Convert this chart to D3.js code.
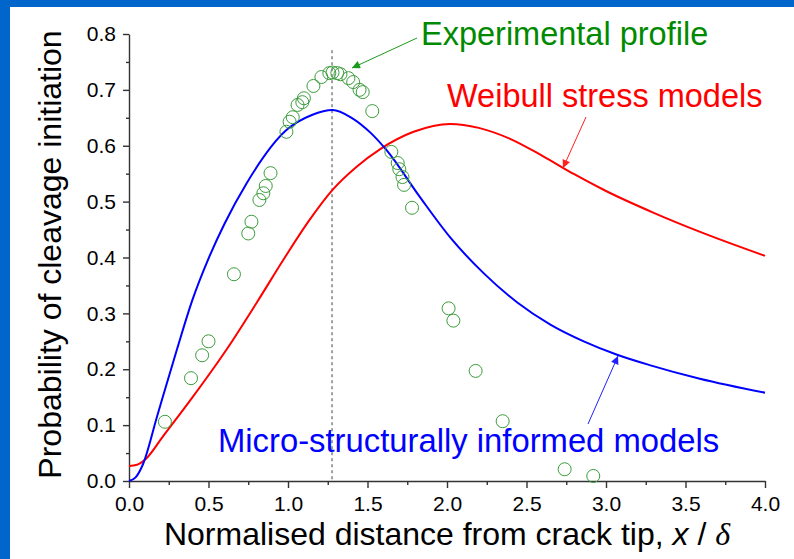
<!DOCTYPE html>
<html>
<head>
<meta charset="utf-8">
<script src="https://cdn.jsdelivr.net/npm/d3@7"></script>
<style>
  body { margin: 0; background: #fff; }
  svg { display: block; font-family: "Liberation Sans", Arial, sans-serif; }
</style>
</head>
<body>
<div id="chart"></div>
<script>
// chart data
const microX = [0, 0.04, 0.088, 0.176, 0.30, 0.40, 0.50, 0.60, 0.74, 0.99, 1.15, 1.28, 1.40, 1.52, 1.62, 1.83, 2.02, 2.23, 2.44, 2.65, 2.86, 3.07, 3.28, 3.59, 4.0];
const microY = [0, 0.006, 0.03, 0.115, 0.234, 0.325, 0.398, 0.46, 0.533, 0.628, 0.655, 0.664, 0.65, 0.623, 0.592, 0.508, 0.436, 0.372, 0.32, 0.28, 0.25, 0.226, 0.207, 0.183, 0.158];

const weibullX = [0, 0.05, 0.1, 0.214, 0.40, 0.62, 0.805, 0.98, 1.13, 1.28, 1.43, 1.58, 1.79, 2.02, 2.2, 2.4, 2.6, 2.8, 3.0, 3.3, 3.6, 4.0];
const weibullY = [0.027, 0.029, 0.038, 0.08, 0.15, 0.238, 0.32, 0.40, 0.465, 0.521, 0.562, 0.594, 0.625, 0.639, 0.632, 0.612, 0.582, 0.549, 0.519, 0.48, 0.445, 0.403];

const expX = [0.226, 0.39, 0.46, 0.50, 0.66, 0.75, 0.77, 0.82, 0.845, 0.86, 0.89, 0.99, 1.01, 1.03, 1.06, 1.09, 1.10, 1.16, 1.21, 1.26, 1.28, 1.31, 1.33, 1.38, 1.41, 1.45, 1.47, 1.53, 1.65, 1.69, 1.70, 1.72, 1.73, 1.78, 2.01, 2.04, 2.18, 2.35, 2.74, 2.92];
const expY = [0.106, 0.184, 0.225, 0.25, 0.37, 0.443, 0.464, 0.503, 0.515, 0.528, 0.551, 0.625, 0.643, 0.651, 0.673, 0.678, 0.685, 0.707, 0.723, 0.73, 0.731, 0.73, 0.728, 0.721, 0.714, 0.70, 0.696, 0.662, 0.589, 0.569, 0.558, 0.544, 0.53, 0.489, 0.309, 0.287, 0.197, 0.107, 0.021, 0.009];

const peakX = 1.277;
const xTicks = [0, 0.5, 1.0, 1.5, 2.0, 2.5, 3.0, 3.5, 4.0];
const yTicks = [0, 0.1, 0.2, 0.3, 0.4, 0.5, 0.6, 0.7, 0.8];

const width = 794, height = 559;
const margin = {top: 34, right: 29, bottom: 78, left: 129};
const innerW = width - margin.left - margin.right;
const innerH = height - margin.top - margin.bottom;

const svg = d3.select("#chart").append("svg")
    .attr("width", width)
    .attr("height", height);

// blue frame strips
svg.append("rect").attr("x", 0).attr("y", 0).attr("width", width).attr("height", 7).attr("fill", "#0066cc");
svg.append("rect").attr("x", 0).attr("y", 0).attr("width", 10).attr("height", height).attr("fill", "#0066cc");

const defs = svg.append("defs");
function arrowMarker(id, color) {
  defs.append("marker")
      .attr("id", id)
      .attr("viewBox", "0 0 10 10")
      .attr("refX", 10).attr("refY", 5)
      .attr("markerWidth", 11).attr("markerHeight", 8)
      .attr("markerUnits", "userSpaceOnUse")
      .attr("orient", "auto")
      .append("path")
      .attr("d", "M0,0L10,5L0,10z")
      .attr("fill", color);
}
arrowMarker("arrG", "#1a9a1a");
arrowMarker("arrR", "#ff2020");
arrowMarker("arrB", "#2020ff");

const g = svg.append("g").attr("transform", `translate(${margin.left},${margin.top})`);

let x = d3.scaleLinear().domain([0, 4]).range([0, innerW]);
let y = d3.scaleLinear().domain([0, 0.8]).range([innerH, 0]);

// minor ticks
g.append("g")
    .attr("transform", `translate(0,${innerH})`)
    .call(d3.axisBottom(x).tickValues(d3.range(0.25, 4, 0.5)).tickSize(4).tickFormat(""))
    .call(a => a.select(".domain").remove());
g.append("g")
    .call(d3.axisLeft(y).tickValues(d3.range(0.05, 0.8, 0.1)).tickSize(3).tickFormat(""))
    .call(a => a.select(".domain").remove());

// major axes
let xAxis = g.append("g")
    .attr("transform", `translate(0,${innerH})`)
    .call(d3.axisBottom(x).tickValues(xTicks).tickSize(7).tickSizeOuter(0).tickPadding(8).tickFormat(d3.format(".1f")));
let yAxis = g.append("g")
    .call(d3.axisLeft(y).tickValues(yTicks).tickSize(6).tickSizeOuter(0).tickPadding(7).tickFormat(d3.format(".1f")));

g.selectAll(".tick text").attr("font-size", 21).attr("fill", "#000").attr("font-family", "Liberation Sans, Arial, sans-serif");
g.selectAll(".domain, .tick line").attr("stroke", "#333").attr("stroke-width", 1.4);

// dashed line at peak
g.append("line")
    .attr("x1", x(peakX)).attr("x2", x(peakX))
    .attr("y1", y(0.771)).attr("y2", y(0))
    .attr("stroke", "#444").attr("stroke-width", 1)
    .attr("stroke-dasharray", "3,3");

const line = d3.line().curve(d3.curveMonotoneX);

g.append("path")
    .attr("d", line(weibullX.map((d, i) => [x(d), y(weibullY[i])])))
    .attr("fill", "none").attr("stroke", "#ff0000").attr("stroke-width", 2);

g.append("path")
    .attr("d", line(microX.map((d, i) => [x(d), y(microY[i])])))
    .attr("fill", "none").attr("stroke", "#0000ff").attr("stroke-width", 2);

g.selectAll("circle.exp")
    .data(expX.map((d, i) => ({x: d, y: expY[i]})))
    .enter().append("circle")
    .attr("class", "exp")
    .attr("cx", d => x(d.x))
    .attr("cy", d => y(d.y))
    .attr("r", 6.5)
    .attr("fill", "none")
    .attr("stroke", "#3c9c3c")
    .attr("stroke-width", 1);

// annotations
svg.append("text").attr("x", 421).attr("y", 45).attr("font-size", 32.5).attr("fill", "#008a00").text("Experimental profile");
svg.append("line").attr("x1", 417).attr("y1", 38).attr("x2", 352).attr("y2", 68)
    .attr("stroke", "#1a9a1a").attr("stroke-width", 1).attr("marker-end", "url(#arrG)");

svg.append("text").attr("x", 447).attr("y", 107).attr("font-size", 32.5).attr("fill", "#ff0000").text("Weibull stress models");
svg.append("line").attr("x1", 586).attr("y1", 117).attr("x2", 563).attr("y2", 168)
    .attr("stroke", "#ff2020").attr("stroke-width", 1).attr("marker-end", "url(#arrR)");

svg.append("text").attr("x", 218).attr("y", 452).attr("font-size", 32.8).attr("fill", "#0000ff").text("Micro-structurally informed models");
svg.append("line").attr("x1", 588).attr("y1", 424).attr("x2", 618).attr("y2", 356)
    .attr("stroke", "#2020ff").attr("stroke-width", 1).attr("marker-end", "url(#arrB)");

// axis titles
const xt = svg.append("text")
    .attr("x", margin.left + innerW / 2).attr("y", 545)
    .attr("text-anchor", "middle").attr("font-size", 32).attr("fill", "#000");
xt.append("tspan").text("Normalised distance from crack tip, ");
xt.append("tspan").attr("font-style", "italic").text("x");
xt.append("tspan").text(" / ");
xt.append("tspan").attr("font-style", "italic").attr("font-family", "Liberation Serif, Times New Roman, serif").text("δ");

svg.append("text")
    .attr("transform", `translate(61,${margin.top + innerH / 2 - 3}) rotate(-90)`)
    .attr("text-anchor", "middle").attr("font-size", 32).attr("fill", "#000")
    .text("Probability of cleavage initiation");
</script>
</body>
</html>
